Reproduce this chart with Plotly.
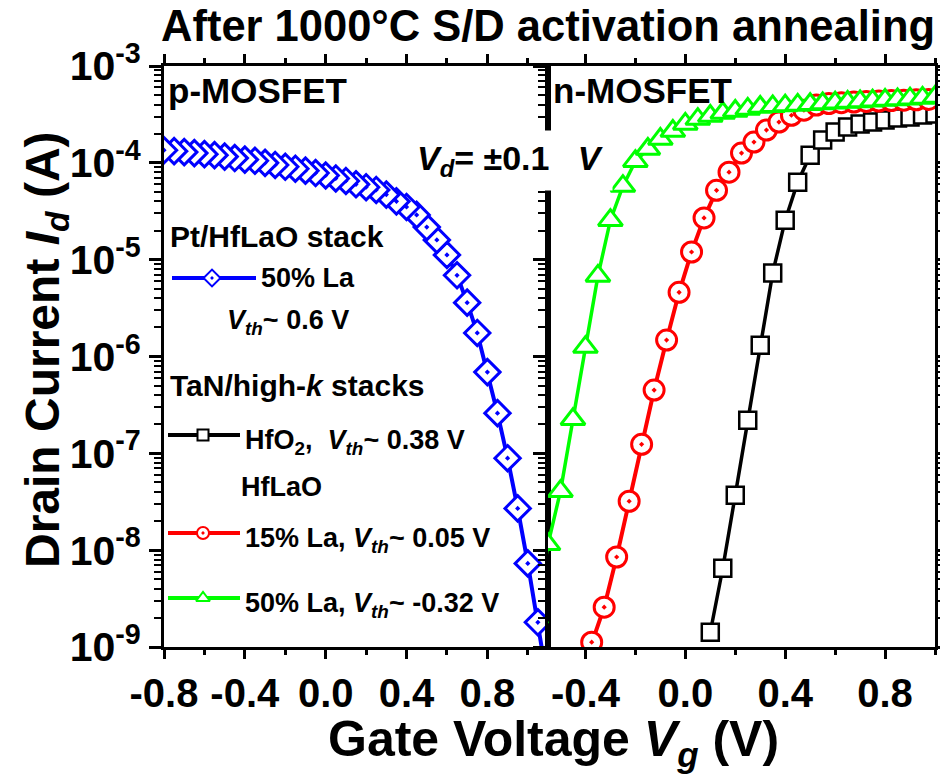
import plotly.graph_objects as go

# ---------------- data ----------------
# p-MOSFET, Pt/HfLaO (50% La)
p_vg = [-0.80, -0.75, -0.70, -0.65, -0.60, -0.55, -0.50, -0.45, -0.40, -0.35,
        -0.30, -0.25, -0.20, -0.15, -0.10, -0.05, 0.00, 0.05, 0.10, 0.15,
        0.20, 0.25, 0.30, 0.35, 0.40, 0.45, 0.50, 0.55, 0.60, 0.65,
        0.70, 0.75, 0.80, 0.85, 0.90, 0.95, 1.00, 1.05, 1.10]
p_id = [1.35e-4, 1.32e-4, 1.29e-4, 1.26e-4, 1.23e-4, 1.20e-4, 1.16e-4, 1.12e-4, 1.08e-4, 1.05e-4,
        1.00e-4, 9.5e-5, 9.1e-5, 8.7e-5, 8.3e-5, 7.85e-5, 7.4e-5, 6.9e-5, 6.5e-5, 6.0e-5,
        5.6e-5, 5.25e-5, 4.7e-5, 4.0e-5, 3.5e-5, 2.9e-5, 2.17e-5, 1.6e-5, 1.12e-5, 6.9e-6,
        3.6e-6, 1.75e-6, 6.9e-7, 2.6e-7, 8.9e-8, 2.7e-8, 7.3e-9, 1.8e-9, 4.0e-10]

# n-MOSFET, TaN/HfO2
n_hfo2_vg = [0.10, 0.15, 0.20, 0.25, 0.30, 0.35, 0.40, 0.45, 0.50, 0.55,
             0.60, 0.65, 0.70, 0.75, 0.80, 0.85, 0.90, 0.95, 1.00]
n_hfo2_id = [1.42e-9, 6.5e-9, 3.7e-8, 2.2e-7, 1.31e-6, 7.3e-6, 2.56e-5, 6.3e-5, 1.2e-4, 1.72e-4,
             2.08e-4, 2.35e-4, 2.52e-4, 2.64e-4, 2.77e-4, 2.9e-4, 2.97e-4, 3.12e-4, 3.19e-4]

# n-MOSFET, TaN/HfLaO 15% La
n_la15_vg = [-0.425, -0.375, -0.325, -0.275, -0.225, -0.175, -0.125, -0.075, -0.025, 0.025,
             0.075, 0.125, 0.175, 0.225, 0.275, 0.325, 0.375, 0.425, 0.475, 0.525,
             0.575, 0.625, 0.675, 0.725, 0.775, 0.825, 0.875, 0.925, 0.975]
n_la15_id = [4.6e-10, 1.12e-9, 2.58e-9, 8.5e-9, 3.2e-8, 1.24e-7, 4.5e-7, 1.48e-6, 4.6e-6, 1.2e-5,
             2.7e-5, 5.2e-5, 8.0e-5, 1.26e-4, 1.64e-4, 2.18e-4, 2.64e-4, 3.1e-4, 3.5e-4, 3.95e-4,
             4.1e-4, 4.18e-4, 4.24e-4, 4.3e-4, 4.35e-4, 4.4e-4, 4.44e-4, 4.48e-4, 4.52e-4]

# n-MOSFET, TaN/HfLaO 50% La
n_la50_vg = [-0.60, -0.55, -0.50, -0.45, -0.40, -0.35, -0.30, -0.25, -0.20, -0.15,
             -0.10, -0.05, 0.00, 0.05, 0.10, 0.15, 0.20, 0.25, 0.30, 0.35,
             0.40, 0.45, 0.50, 0.55, 0.60, 0.65, 0.70, 0.75, 0.80, 0.85,
             0.90, 0.95, 1.00]
n_la50_id = [2.0e-9, 1.15e-8, 4.07e-8, 2.25e-7, 1.25e-6, 6.8e-6, 2.56e-5, 5.75e-5, 1.04e-4, 1.39e-4,
             1.76e-4, 2.13e-4, 2.52e-4, 2.83e-4, 3.04e-4, 3.27e-4, 3.43e-4, 3.6e-4, 3.77e-4, 3.83e-4,
             3.9e-4, 3.96e-4, 4.03e-4, 4.1e-4, 4.17e-4, 4.24e-4, 4.31e-4, 4.38e-4, 4.45e-4, 4.52e-4,
             4.6e-4, 4.68e-4, 4.78e-4]

# ticks
y_tick_vals = [1e-9, 1e-8, 1e-7, 1e-6, 1e-5, 1e-4, 1e-3]
y_tick_text = ["10<sup>-9</sup>", "10<sup>-8</sup>", "10<sup>-7</sup>", "10<sup>-6</sup>",
               "10<sup>-5</sup>", "10<sup>-4</sup>", "10<sup>-3</sup>"]
y_minor_vals = [m * d for d in y_tick_vals[:-1] for m in range(2, 10)]
xl_tick_vals = [-0.8, -0.4, 0.0, 0.4, 0.8]
xl_tick_text = ["-0.8", "-0.4", "0.0", "0.4", "0.8"]
xl_minor_vals = [-0.6, -0.2, 0.2, 0.6, 1.0]
xr_tick_vals = [-0.4, 0.0, 0.4, 0.8]
xr_tick_text = ["-0.4", "0.0", "0.4", "0.8"]
xr_minor_vals = [-0.2, 0.2, 0.6, 1.0]

# colours
C_BLUE, C_BLACK, C_RED, C_GREEN = "#0000FF", "#000000", "#FF0000", "#00FF00"

# ---------------- layout geometry ----------------
W, H = 940, 780
L, R, T, B = 164, 935, 66, 647          # plot area in pixels
SPLIT = 548                              # boundary between panels
FONT = "Liberation Sans, Arial, Helvetica, sans-serif"


def pxx(x):
    return (x - L) / (R - L)


def pxy(y):
    return (B - y) / (B - T)


fig = go.Figure()

# ---- data traces ----
fig.add_trace(go.Scatter(
    x=p_vg[::-1], y=p_id[::-1], xaxis="x", yaxis="y", mode="lines+markers",
    line=dict(color=C_BLUE, width=4),
    marker=dict(symbol="diamond-dot", size=19.5, color="white", line=dict(color=C_BLUE, width=3)),
    showlegend=False))
fig.add_trace(go.Scatter(
    x=n_hfo2_vg, y=n_hfo2_id, xaxis="x2", yaxis="y2", mode="lines+markers",
    line=dict(color=C_BLACK, width=3.5),
    marker=dict(symbol="square", size=17, color="white", line=dict(color=C_BLACK, width=2.5)),
    showlegend=False))
fig.add_trace(go.Scatter(
    x=n_la15_vg, y=n_la15_id, xaxis="x2", yaxis="y2", mode="lines+markers",
    line=dict(color=C_RED, width=4),
    marker=dict(symbol="circle-dot", size=20, color="white", line=dict(color=C_RED, width=3)),
    showlegend=False))
fig.add_trace(go.Scatter(
    x=n_la50_vg, y=n_la50_id, xaxis="x2", yaxis="y2", mode="lines+markers",
    line=dict(color=C_GREEN, width=3.5),
    marker=dict(symbol="triangle-up", size=21, color="white", line=dict(color=C_GREEN, width=3)),
    showlegend=False))

# ---- hand-made legend samples (pixel layout axis x3/y3) ----
legend_rows = [
    # (y, x0, xm, x1, colour, symbol, size)
    (278, 172, 212, 256, C_BLUE, "diamond-dot", 13),
    (435, 168, 203, 240, C_BLACK, "square", 11),
    (533, 168, 203, 240, C_RED, "circle-dot", 12),
    (598, 168, 203, 240, C_GREEN, "triangle-up", 12),
]
for (yy, x0, xm, x1, col, sym, sz) in legend_rows:
    fig.add_trace(go.Scatter(x=[x0, x1], y=[yy, yy], xaxis="x3", yaxis="y3", mode="lines",
                             line=dict(color=col, width=4), showlegend=False, hoverinfo="skip"))
    fig.add_trace(go.Scatter(x=[xm], y=[yy], xaxis="x3", yaxis="y3", mode="markers",
                             marker=dict(symbol=sym, size=sz, color="white", line=dict(color=col, width=2)),
                             showlegend=False, hoverinfo="skip"))

# ---- axes ----
dom_split = (SPLIT - L) / (R - L)
tickfont_x = dict(family=FONT, size=40, color="black", weight="bold")
tickfont_y = dict(family=FONT, size=41, color="black", weight="bold")

common_x = dict(showgrid=False, zeroline=False, showline=True, linecolor="black", linewidth=3,
                ticks="outside", ticklen=9, tickwidth=3, tickcolor="black", automargin=False,
                mirror="allticks", tickfont=tickfont_x, tickmode="array")
common_y = dict(type="log", range=[-9, -3], showgrid=False, zeroline=False, showline=True,
                linecolor="black", linewidth=3, ticks="outside", ticklen=12, tickwidth=3,
                tickcolor="black", tickmode="array", tickvals=y_tick_vals, automargin=False,
                minor=dict(tickvals=y_minor_vals, ticks="outside", ticklen=7, tickwidth=2,
                           tickcolor="black"))

fig.update_layout(
    xaxis=dict(domain=[0, dom_split], range=[-0.8, 1.1], anchor="y",
               tickvals=xl_tick_vals, ticktext=xl_tick_text,
               minor=dict(tickvals=xl_minor_vals, ticks="outside", ticklen=5, tickwidth=2.5,
                          tickcolor="black"),
               **common_x),
    xaxis2=dict(domain=[dom_split, 1], range=[-0.55, 1.0], anchor="y2",
                tickvals=xr_tick_vals, ticktext=xr_tick_text,
                minor=dict(tickvals=xr_minor_vals, ticks="outside", ticklen=5, tickwidth=2.5,
                           tickcolor="black"),
                **common_x),
    yaxis=dict(domain=[0, 1], anchor="x", ticktext=y_tick_text, tickfont=tickfont_y,
               mirror=True, **common_y),
    yaxis2=dict(domain=[0, 1], anchor="x2", showticklabels=False, mirror="allticks", **common_y),
    xaxis3=dict(domain=[0, 1], range=[L, R], anchor="y3", visible=False, fixedrange=True,
                automargin=False),
    yaxis3=dict(domain=[0, 1], range=[B, T], anchor="x3", visible=False, fixedrange=True,
                automargin=False),
    width=W, height=H,
    margin=dict(l=L, r=W - R, t=T, b=H - B, pad=0, autoexpand=False),
    paper_bgcolor="white", plot_bgcolor="rgba(0,0,0,0)",
    font=dict(family=FONT, color="black", weight="bold"),
    showlegend=False,
)


# ---- text ----
def ann(text, x, y, size, xanchor="left", yanchor="middle", **kw):
    fig.add_annotation(text=text, x=pxx(x), y=pxy(y), xref="paper", yref="paper",
                       xanchor=xanchor, yanchor=yanchor, showarrow=False,
                       font=dict(family=FONT, size=size, color="black", weight="bold"), **kw)


ann("After 1000°C S/D activation annealing", 548, 26, 43.5, xanchor="center")
ann("Gate Voltage <i>V</i><sub><i>g</i></sub> (V)", 553, 742, 50, xanchor="center")
ann("Drain Current <i>I</i><sub><i>d</i></sub> (A)", 46, 350, 48, xanchor="center", textangle=-90)

ann("p-MOSFET", 166, 90, 35)
ann("n-MOSFET", 551, 90, 35)
ann("<i>V</i><sub><i>d</i></sub>= ±0.1\u00a0\u00a0\u00a0<i>V</i>", 408, 160, 34,
    bgcolor="white", borderpad=8)

ann("Pt/HfLaO stack", 168, 236, 30)
ann("50% La", 259, 278, 27)
ann("<i>V</i><sub><i>th</i></sub>~ 0.6 V", 225, 322, 27)
ann("TaN/high-<i>k</i> stacks", 168, 385, 30)
ann("HfO<sub>2</sub>,\u00a0 <i>V</i><sub><i>th</i></sub>~ 0.38 V", 243, 442, 27)
ann("HfLaO", 239, 487, 27)
ann("15% La, <i>V</i><sub><i>th</i></sub>~ 0.05 V", 243, 540, 27)
ann("50% La, <i>V</i><sub><i>th</i></sub>~ -0.32 V", 243, 605, 27)

fig.write_html("out.html")
